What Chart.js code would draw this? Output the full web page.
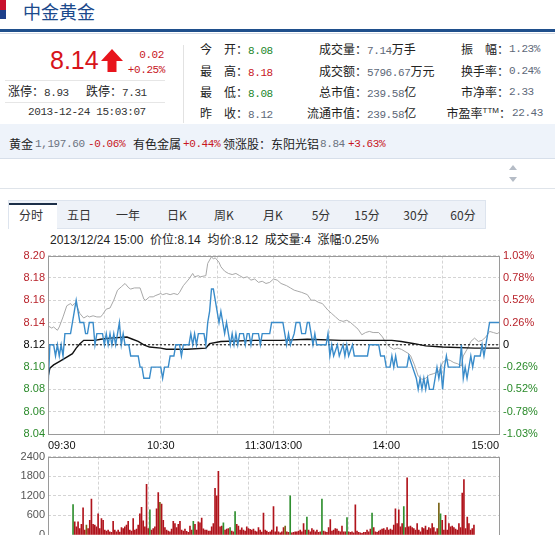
<!DOCTYPE html>
<html><head><meta charset="utf-8">
<script src="https://cdn.jsdelivr.net/npm/chart.js@4.4.0/dist/chart.umd.min.js"></script>
<style>
html,body{margin:0;padding:0;width:555px;height:535px;overflow:hidden;background:#fff;}
.a{position:absolute;white-space:nowrap;line-height:14px;}
.cn{font-family:"Noto Sans CJK SC",sans-serif;font-size:12px;color:#222;}
.num{font-family:"Liberation Mono",monospace;font-size:11px;letter-spacing:-0.4px;}
.g{color:#22862a}.r{color:#c8161e}.gy{color:#5d6878}
.tab{position:absolute;top:208px;width:48px;text-align:center;font-family:"Noto Sans CJK SC",sans-serif;font-size:12px;line-height:14px;color:#333;}
canvas{position:absolute;left:0;}
</style></head>
<body>
<!-- header -->
<div class="a" style="left:0;top:0;width:6px;height:10px;background:#c8102e"></div>
<div class="a" style="left:0;top:10px;width:6px;height:9px;background:#1d3f8a"></div>
<div class="a" style="left:23px;top:1px;font-family:'Noto Sans CJK SC',sans-serif;font-size:18px;line-height:20px;color:#1b4a8c">中金黄金</div>
<div class="a" style="left:0;top:29px;width:555px;height:3px;background:#1f4f8c"></div>
<div class="a" style="left:0;top:33px;width:555px;height:1px;background:#d6dce6"></div>

<div class="a" style="left:50px;top:48px;font-family:'Liberation Sans',sans-serif;font-size:25px;line-height:25px;color:#d7141a">8.14</div>
<svg class="a" style="left:101px;top:49px" width="22" height="23"><polygon points="11,0 22,12 15.5,12 15.5,23 6.5,23 6.5,12 0,12" fill="#e8141c"/></svg>
<div class="a num r" style="left:120px;width:44px;text-align:right;top:48px">0.02</div>
<div class="a num r" style="left:110px;width:55px;text-align:right;top:63px">+0.25%</div>
<div class="a" style="left:5px;top:80px;width:160px;height:1px;background:#e6e6e6"></div>
<div class="a cn" style="left:8px;top:84px">涨停：<span class="num" style="color:#333">8.93</span></div>
<div class="a cn" style="left:86px;top:84px">跌停：<span class="num" style="color:#333">7.31</span></div>
<div class="a" style="left:5px;top:102px;width:160px;height:1px;background:#e6e6e6"></div>
<div class="a num" style="left:28px;top:105px;color:#333">2013-12-24 15:03:07</div>
<div class="a" style="left:183px;top:45px;width:1px;height:78px;background:#e2e2e2"></div>

<div class="a cn" style="left:200px;top:42px">今　开：<span class="num g">8.08</span></div>
<div class="a cn" style="left:200px;top:64px">最　高：<span class="num r">8.18</span></div>
<div class="a cn" style="left:200px;top:85px">最　低：<span class="num g">8.08</span></div>
<div class="a cn" style="left:200px;top:106px">昨　收：<span class="num gy">8.12</span></div>

<div class="a cn" style="left:290px;width:77px;text-align:right;top:42px">成交量：</div>
<div class="a cn" style="left:367px;top:42px"><span class="num gy">7.14</span>万手</div>
<div class="a cn" style="left:290px;width:77px;text-align:right;top:64px">成交额：</div>
<div class="a cn" style="left:367px;top:64px"><span class="num gy">5796.67</span>万元</div>
<div class="a cn" style="left:290px;width:77px;text-align:right;top:85px">总市值：</div>
<div class="a cn" style="left:367px;top:85px"><span class="num gy">239.58</span>亿</div>
<div class="a cn" style="left:290px;width:77px;text-align:right;top:106px">流通市值：</div>
<div class="a cn" style="left:367px;top:106px"><span class="num gy">239.58</span>亿</div>

<div class="a cn" style="left:430px;width:79px;text-align:right;top:42px">振　幅：</div>
<div class="a num gy" style="left:509px;top:42px">1.23%</div>
<div class="a cn" style="left:430px;width:79px;text-align:right;top:64px">换手率：</div>
<div class="a num gy" style="left:509px;top:64px">0.24%</div>
<div class="a cn" style="left:430px;width:79px;text-align:right;top:85px">市净率：</div>
<div class="a num gy" style="left:509px;top:85px">2.33</div>
<div class="a cn" style="left:420px;width:91px;text-align:right;top:106px">市盈率<sup style="font-size:8px;line-height:8px;font-family:'Liberation Sans'">TTM</sup>：</div>
<div class="a num gy" style="left:512px;top:106px">22.43</div>

<!-- info bar -->
<div class="a" style="left:0;top:124px;width:555px;height:34px;background:#eef3fa;border-bottom:1px solid #d7dfea"></div>
<div class="a cn" style="left:9px;top:137px">黄金</div>
<div class="a num" style="left:35px;top:137px;color:#6a7280">1,197.60</div>
<div class="a num r" style="left:88px;top:137px">-0.06%</div>
<div class="a cn" style="left:133px;top:137px">有色金属</div>
<div class="a num r" style="left:183px;top:137px">+0.44%</div>
<div class="a cn" style="left:223px;top:137px">领涨股：东阳光铝</div>
<div class="a num" style="left:320px;top:137px;color:#6a7280">8.84</div>
<div class="a num r" style="left:348px;top:137px">+3.63%</div>
<div class="a" style="left:0;top:188px;width:555px;height:1px;background:#dfe4ea"></div>
<svg class="a" style="left:508px;top:164px" width="10" height="20"><polygon points="5,1 9,6 1,6" fill="#b5bcc6"/><polygon points="1,13 9,13 5,18" fill="#b5bcc6"/></svg>

<!-- tabs -->
<div class="a" style="left:8px;top:200px;width:476px;height:27px;background:#eef2f8;border:1px solid #dde4ee"></div>
<div class="a" style="left:9px;top:203px;width:48px;height:25px;background:#fff;border-top:2px solid #1c2f48"></div>
<div class="tab" style="left:7px">分时</div>
<div class="tab" style="left:55px">五日</div>
<div class="tab" style="left:104px">一年</div>
<div class="tab" style="left:153px">日K</div>
<div class="tab" style="left:200px">周K</div>
<div class="tab" style="left:249px">月K</div>
<div class="tab" style="left:297px">5分</div>
<div class="tab" style="left:343px">15分</div>
<div class="tab" style="left:392px">30分</div>
<div class="tab" style="left:439px">60分</div>

<div class="a" style="left:50px;top:233px;font-family:'Liberation Sans','Noto Sans CJK SC',sans-serif;font-size:12px;color:#222">2013/12/24 15:00 &nbsp;价位:8.14 &nbsp;均价:8.12 &nbsp;成交量:4 &nbsp;涨幅:0.25%</div>

<canvas id="price" width="555" height="205" style="top:245px"></canvas>
<canvas id="vol" width="555" height="100" style="top:447px"></canvas>

<script>
// ---- axis data ----
const gridMinutes = [0, 30, 60, 90, 120, 150, 180, 210, 240];
const timeLabels = ['09:30', '', '10:30', '', '11:30/13:00', '', '14:00', '', '15:00'];
const priceTicks = [8.04, 8.06, 8.08, 8.10, 8.12, 8.14, 8.16, 8.18, 8.20];
const pctLabelsTopDown = ['1.03%', '0.78%', '0.52%', '0.26%', '0', '-0.26%', '-0.52%', '-0.78%', '-1.03%'];
const volumeTicks = [0, 600, 1200, 1800, 2400];
const prevClose = 8.12;

// ---- series: [minute from 09:30, value] ----
const pricePath = [[0,8.08],[1,8.12],[3,8.12],[4,8.11],[5,8.12],[6,8.11],[7,8.12],[8,8.11],[9,8.13],[12,8.13],[13,8.14],[14,8.15],[15,8.16],[16,8.15],[17,8.14],[19,8.14],[20,8.13],[21,8.13],[22,8.14],[24,8.14],[25,8.12],[26,8.13],[29,8.13],[30,8.12],[31,8.13],[32,8.12],[33,8.13],[34,8.12],[35,8.13],[36,8.12],[37,8.13],[38,8.14],[39,8.12],[40,8.13],[41,8.12],[43,8.12],[44,8.11],[48,8.11],[49,8.10],[50,8.10],[51,8.09],[54,8.09],[55,8.10],[60,8.10],[61,8.09],[62,8.10],[64,8.10],[65,8.11],[67,8.11],[68,8.12],[70,8.12],[71,8.11],[72,8.12],[75,8.12],[76,8.13],[77,8.12],[78,8.13],[79,8.12],[80,8.13],[83,8.13],[84,8.12],[85,8.14],[86,8.15],[87,8.17],[88,8.17],[89,8.16],[90,8.15],[91,8.14],[92,8.15],[93,8.14],[94,8.13],[95,8.14],[96,8.13],[97,8.12],[98,8.13],[99,8.12],[100,8.13],[101,8.12],[102,8.13],[104,8.13],[105,8.12],[106,8.13],[107,8.13],[108,8.12],[109,8.13],[112,8.13],[113,8.12],[114,8.13],[118,8.13],[119,8.14],[125,8.14],[126,8.13],[127,8.12],[128,8.13],[129,8.12],[131,8.13],[132,8.14],[134,8.14],[135,8.13],[137,8.13],[138,8.14],[139,8.14],[140,8.13],[141,8.12],[142,8.13],[143,8.12],[148,8.12],[149,8.13],[150,8.11],[151,8.12],[152,8.11],[154,8.12],[155,8.11],[157,8.12],[158,8.11],[159,8.12],[160,8.11],[162,8.12],[163,8.11],[170,8.11],[171,8.12],[176,8.12],[177,8.11],[179,8.11],[180,8.10],[182,8.10],[183,8.11],[184,8.10],[185,8.11],[186,8.10],[191,8.10],[192,8.11],[194,8.10],[196,8.09],[197,8.08],[198,8.09],[199,8.08],[200,8.09],[201,8.08],[202,8.09],[203,8.08],[205,8.08],[206,8.09],[207,8.10],[208,8.09],[209,8.10],[210,8.08],[211,8.10],[212,8.11],[213,8.10],[219,8.10],[220,8.12],[221,8.09],[222,8.10],[223,8.09],[224,8.10],[225,8.11],[226,8.10],[227,8.11],[230,8.11],[231,8.12],[232,8.11],[233,8.12],[234,8.13],[235,8.14],[240,8.14]];

const avgPath = [[0,8.091],[1,8.099],[3,8.102],[6,8.105],[10,8.109],[13,8.112],[15,8.117],[17,8.121],[19,8.124],[25,8.124],[28,8.125],[33,8.126],[42,8.127],[45,8.125],[48,8.123],[51,8.120],[54,8.118],[60,8.117],[63,8.116],[74,8.116],[84,8.117],[86,8.121],[92,8.123],[110,8.124],[124,8.124],[138,8.125],[156,8.124],[183,8.124],[188,8.123],[195,8.121],[201,8.119],[210,8.118],[227,8.117],[240,8.117]];

const indexPath = [[0,8.137],[2,8.135],[3,8.136],[5,8.133],[6,8.136],[8,8.145],[10,8.155],[12,8.157],[13,8.155],[14,8.157],[15,8.156],[17,8.148],[19,8.144],[21,8.146],[22,8.145],[24,8.146],[26,8.145],[28,8.145],[29,8.147],[31,8.152],[33,8.153],[35,8.160],[37,8.169],[39,8.172],[41,8.175],[43,8.171],[44,8.170],[46,8.171],[49,8.171],[51,8.161],[52,8.160],[54,8.163],[56,8.163],[57,8.164],[60,8.166],[61,8.165],[63,8.166],[65,8.165],[67,8.166],[69,8.165],[70,8.167],[72,8.173],[75,8.179],[77,8.184],[78,8.181],[80,8.182],[81,8.181],[84,8.182],[85,8.193],[87,8.199],[88,8.197],[89,8.198],[91,8.194],[92,8.190],[94,8.186],[96,8.184],[98,8.183],[100,8.184],[102,8.182],[104,8.180],[106,8.181],[108,8.178],[110,8.179],[112,8.176],[114,8.177],[116,8.175],[118,8.176],[120,8.179],[122,8.178],[124,8.175],[127,8.173],[129,8.171],[131,8.169],[133,8.168],[135,8.167],[138,8.165],[140,8.160],[142,8.160],[144,8.158],[146,8.157],[149,8.151],[151,8.148],[153,8.145],[155,8.142],[157,8.141],[159,8.142],[161,8.140],[163,8.137],[165,8.134],[167,8.129],[169,8.131],[171,8.132],[173,8.131],[176,8.131],[178,8.127],[180,8.121],[182,8.118],[184,8.116],[186,8.117],[188,8.116],[190,8.114],[192,8.112],[193,8.110],[195,8.102],[197,8.092],[199,8.089],[201,8.090],[203,8.093],[205,8.094],[208,8.096],[210,8.104],[212,8.107],[214,8.106],[216,8.104],[218,8.103],[220,8.101],[221,8.110],[223,8.116],[225,8.123],[227,8.126],[229,8.123],[231,8.124],[233,8.127],[235,8.132],[237,8.131],[239,8.130],[240,8.131]];

// per-minute volume (lots), minute 0..240
const volumes = [
 930,400,250,400,200,330,830,150,300,200,
 450,1100,330,300,250,650,200,500,450,150,
 120,150,100,80,420,150,100,150,90,230,
 200,250,300,420,150,120,500,150,180,300,
 650,850,430,250,1550,200,770,150,200,250,
 800,1300,1000,950,450,230,150,120,100,180,
 420,350,230,330,420,150,120,180,110,80,
 270,150,420,330,150,400,370,520,190,150,
 150,120,120,250,350,1430,1200,1950,250,270,
 370,150,180,200,230,120,100,720,330,270,
 150,220,150,120,250,200,170,150,180,120,
 100,230,150,90,670,150,120,80,100,150,
 870,100,250,100,70,100,230,270,100,80,
 1200,70,80,100,100,120,150,100,350,150,
 550,150,100,200,150,100,150,80,100,1100,
 120,100,80,230,470,120,150,200,180,120,
 100,270,100,100,530,100,80,100,70,920,
 120,80,70,50,80,80,150,100,180,670,
 230,100,80,120,150,180,200,150,230,150,
 180,150,300,800,350,770,250,350,870,230,
 1750,250,270,230,200,150,350,150,100,230,
 200,270,150,230,200,350,230,100,200,980,
 650,450,150,600,150,350,250,270,230,180,
 150,350,230,1280,1700,200,550,350,150,200,300];
const greenMinutes = [0, 46, 72, 90, 94, 97, 130, 140, 149, 164, 179, 198, 220];
const oliveMinutes = [8, 52, 127, 219];

// ---- styles ----
const RED = '#b8232b', GREEN = '#2a8a2a';
const GRID = '#d4d4d4';
const FONT = {family: 'Liberation Sans', size: 11};

const framePlugin = {
  id: 'frame',
  afterDatasetsDraw(chart) {
    const {ctx, chartArea: a} = chart;
    ctx.save();
    ctx.strokeStyle = '#9a9a9a';
    ctx.lineWidth = 1;
    ctx.strokeRect(Math.round(a.left) + 0.5, Math.round(a.top) + 0.5,
      Math.round(a.right - a.left), Math.round(a.bottom - a.top));
    ctx.restore();
  }
};

function tickColor(v) {
  if (Math.abs(v - prevClose) < 1e-6) return '#000';
  return v > prevClose ? RED : GREEN;
}
const setTicks = arr => s => { s.ticks = arr.map(v => ({value: v})); };
const toXY = p => ({x: p[0], y: p[1]});

new Chart(document.getElementById('price'), {
  type: 'line',
  data: {
    datasets: [
      {label: '价位', data: pricePath.map(toXY), borderColor: '#3a8cca', borderWidth: 1.4},
      {label: '均价', data: avgPath.map(toXY), borderColor: '#111', borderWidth: 1.4},
      {label: '昨收', data: [{x: 0, y: prevClose}, {x: 240, y: prevClose}], borderColor: '#000', borderWidth: 1, borderDash: [2, 2]},
      {label: '指数', data: indexPath.map(toXY), borderColor: '#a8a8a8', borderWidth: 1}
    ]
  },
  options: {
    responsive: false, animation: false, devicePixelRatio: 1,
    layout: {padding: {top: 10, left: 0, right: 0, bottom: 0}},
    elements: {point: {radius: 0}, line: {tension: 0}},
    plugins: {legend: {display: false}, tooltip: {enabled: false}},
    scales: {
      x: {
        type: 'linear', min: 0, max: 240,
        afterBuildTicks: setTicks(gridMinutes),
        afterFit: s => { s.height = 16; },
        grid: {color: GRID, drawTicks: false},
        border: {display: false, dash: [3, 2]},
        ticks: {autoSkip: false, maxRotation: 0, align: 'inner', padding: 5, color: '#111', font: FONT,
          callback: (v, i) => timeLabels[i]}
      },
      y: {
        position: 'left', min: 8.04, max: 8.20,
        afterBuildTicks: setTicks(priceTicks),
        afterFit: s => { s.width = 48; },
        grid: {color: GRID, drawTicks: false},
        border: {display: false, dash: [3, 2]},
        ticks: {padding: 3, font: FONT, color: c => tickColor(c.tick.value), callback: v => v.toFixed(2)}
      },
      yR: {
        position: 'right', min: 8.04, max: 8.20,
        afterBuildTicks: setTicks(priceTicks),
        afterFit: s => { s.width = 56; },
        grid: {display: false, drawTicks: false},
        border: {display: false},
        ticks: {padding: 4, font: FONT, color: c => tickColor(c.tick.value),
          callback: (v, i) => pctLabelsTopDown[priceTicks.length - 1 - i]}
      }
    }
  },
  plugins: [framePlugin]
});

new Chart(document.getElementById('vol'), {
  type: 'bar',
  data: {
    datasets: [{
      label: '成交量',
      data: volumes.map((v, i) => ({x: i, y: v})),
      backgroundColor: volumes.map((v, i) => greenMinutes.includes(i) ? '#2f8f2f' : (oliveMinutes.includes(i) ? '#7a6416' : '#b0141c')),
      barThickness: 1, borderWidth: 0
    }]
  },
  options: {
    responsive: false, animation: false, devicePixelRatio: 1,
    layout: {padding: {top: 8, left: 0, right: 56, bottom: 0}},
    plugins: {legend: {display: false}, tooltip: {enabled: false}},
    scales: {
      x: {
        type: 'linear', min: 0, max: 240,
        afterBuildTicks: setTicks(gridMinutes),
        afterFit: s => { s.height = 12; },
        grid: {color: GRID, drawTicks: false},
        border: {display: false, dash: [3, 2]},
        ticks: {display: false}
      },
      y: {
        min: 0, max: 2400,
        afterBuildTicks: setTicks(volumeTicks),
        afterFit: s => { s.width = 48; },
        grid: {color: GRID, drawTicks: false},
        border: {display: false, dash: [3, 2]},
        ticks: {padding: 3, font: FONT, color: '#555', callback: v => String(v)}
      }
    }
  },
  plugins: [framePlugin]
});
</script>
</body></html>
